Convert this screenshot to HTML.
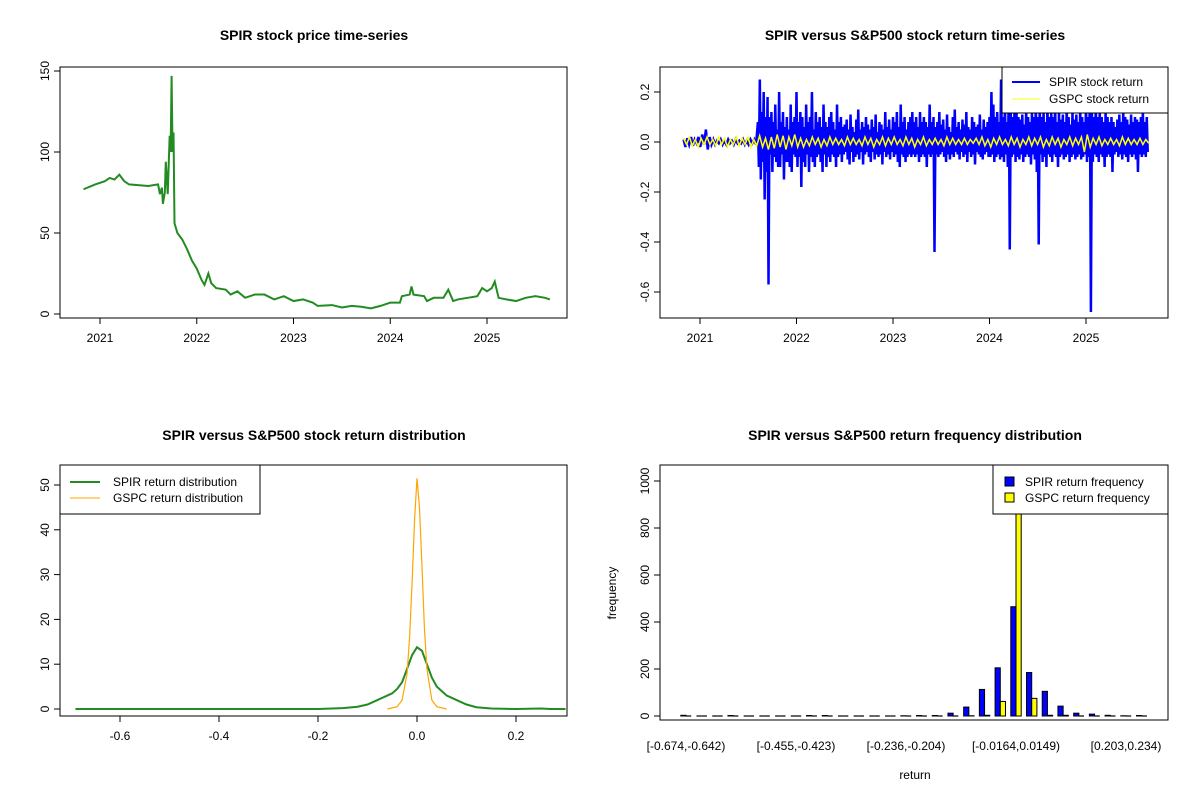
<!DOCTYPE html>
<html><head><meta charset="utf-8"><style>
html,body{margin:0;padding:0;background:#fff;}
svg{display:block;font-family:"Liberation Sans",Arial,sans-serif;}
</style></head><body>
<svg id="c" width="1200" height="800" viewBox="0 0 1200 800"></svg>
<script>
// ---- data ----
const priceDates=[2020.83,2020.95,2021.05,2021.1,2021.15,2021.2,2021.25,2021.3,2021.5,2021.6,2021.62,2021.64,2021.65,2021.67,2021.68,2021.7,2021.72,2021.73,2021.74,2021.75,2021.76,2021.77,2021.8,2021.85,2021.9,2021.95,2022.0,2022.05,2022.08,2022.12,2022.15,2022.2,2022.3,2022.35,2022.42,2022.5,2022.6,2022.7,2022.8,2022.9,2023.0,2023.1,2023.2,2023.25,2023.4,2023.5,2023.6,2023.7,2023.8,2023.9,2024.0,2024.1,2024.12,2024.2,2024.22,2024.24,2024.35,2024.38,2024.45,2024.55,2024.6,2024.65,2024.7,2024.8,2024.9,2024.95,2025.0,2025.05,2025.08,2025.12,2025.2,2025.3,2025.4,2025.5,2025.6,2025.65];
const priceValues=[77,80,82,84,83,86,82,80,79,80,74,78,68,75,94,74,110,100,147,100,112,56,50,46,40,33,28,21,18,25,19,16,15,12,14,10,12,12,9,11,8,9,7,5,5.5,4,5,4.5,3.5,5,7,7,11,12,17,12,11,8,10,10,15,8,9,10,11,16,14,16,20,10,9,8,10,11,10,9];
const spirSegStarts=[2020.83,2021.6,2022.0,2023.0,2024.0,2025.0];
const spirSegEnds=[2021.6,2022.0,2023.0,2024.0,2025.0,2025.65];
const spirSeg0=[0.01,-0.02,0.015,-0.01,0.02,-0.015,0.01,-0.005,0.02,-0.02,0.03,-0.01,0.05,-0.03,0.02,-0.01,0.01,-0.01,0.005,-0.005,0.01,-0.01,0.005,-0.01,0.01,-0.005,0.005,-0.01,0.01,-0.005,0.005,-0.005,0.01,-0.01,0.005,-0.01,0.01,-0.005,0.01,-0.01];
const spirSeg1=[0.08,-0.1,0.25,-0.15,0.12,-0.08,0.2,-0.23,0.1,-0.12,0.18,-0.57,0.1,-0.05,0.12,-0.12,0.08,-0.06,0.15,-0.08,0.05,-0.1,0.2,-0.1,0.08,-0.05,0.12,-0.15,0.06,-0.08,0.1,-0.08,0.05,-0.1,0.15,-0.12,0.08,-0.05,0.1,-0.06];
const spirSeg2=[0.2,-0.1,0.08,-0.06,0.12,-0.18,0.1,-0.08,0.06,-0.1,0.15,-0.05,0.08,-0.12,0.1,-0.06,0.2,-0.08,0.05,-0.1,0.12,-0.06,0.08,-0.05,0.1,-0.08,0.06,-0.12,0.15,-0.05,0.08,-0.1,0.06,-0.06,0.1,-0.08,0.12,-0.05,0.08,-0.06,0.05,-0.1,0.15,-0.06,0.08,-0.05,0.1,-0.08,0.06,-0.05,0.07,-0.04,0.09,-0.07,0.05,-0.09,0.11,-0.04,0.06,-0.08,0.04,-0.06,0.09,-0.05,0.13,-0.07,0.05,-0.04,0.08,-0.09,0.06,-0.05,0.1,-0.04,0.07,-0.06,0.05,-0.08,0.09,-0.04,0.06,-0.07,0.11,-0.05,0.04,-0.06,0.08,-0.05,0.07,-0.09,0.05,-0.04,0.12,-0.06,0.06,-0.05,0.09,-0.07,0.05,-0.04];
const spirSeg3=[0.1,-0.06,0.08,-0.05,0.12,-0.08,0.06,-0.1,0.15,-0.05,0.08,-0.06,0.1,-0.08,0.05,-0.06,0.08,-0.05,0.1,-0.06,0.12,-0.05,0.08,-0.06,0.1,-0.05,0.06,-0.08,0.12,-0.06,0.08,-0.05,0.1,-0.06,0.08,-0.1,0.06,-0.05,0.15,-0.06,0.08,-0.05,0.1,-0.44,0.06,-0.05,0.08,-0.06,0.12,-0.05,0.07,-0.04,0.09,-0.06,0.05,-0.08,0.11,-0.05,0.06,-0.07,0.04,-0.05,0.1,-0.06,0.13,-0.04,0.06,-0.05,0.08,-0.07,0.05,-0.04,0.09,-0.06,0.07,-0.05,0.12,-0.08,0.06,-0.04,0.05,-0.06,0.1,-0.05,0.08,-0.09,0.06,-0.04,0.07,-0.05,0.11,-0.06,0.05,-0.07,0.09,-0.05,0.06,-0.04,0.08,-0.06];
const spirSeg4=[0.1,-0.06,0.2,-0.05,0.15,-0.08,0.1,-0.06,0.12,-0.05,0.08,-0.07,0.25,-0.06,0.1,-0.08,0.15,-0.05,0.08,-0.1,0.22,-0.43,0.12,-0.06,0.1,-0.05,0.15,-0.08,0.12,-0.06,0.1,-0.07,0.09,-0.05,0.11,-0.08,0.07,-0.06,0.13,-0.05,0.1,-0.06,0.08,-0.09,0.12,-0.05,0.1,-0.07,0.15,-0.12,0.1,-0.41,0.15,-0.05,0.1,-0.08,0.12,-0.06,0.08,-0.1,0.15,-0.05,0.1,-0.06,0.12,-0.08,0.1,-0.05,0.15,-0.06,0.08,-0.1,0.12,-0.06,0.09,-0.05,0.11,-0.07,0.08,-0.06,0.14,-0.05,0.1,-0.08,0.07,-0.06,0.12,-0.05,0.09,-0.07,0.11,-0.06,0.08,-0.05,0.13,-0.07,0.1,-0.06,0.08,-0.05];
const spirSeg5=[0.15,-0.08,0.1,-0.06,0.2,-0.68,0.12,-0.08,0.1,-0.05,0.15,-0.06,0.1,-0.08,0.12,-0.05,0.1,-0.06,0.08,-0.1,0.12,-0.06,0.1,-0.05,0.08,-0.06,0.1,-0.12,0.08,-0.05,0.06,-0.04,0.09,-0.06,0.11,-0.05,0.08,-0.07,0.12,-0.05,0.1,-0.06,0.09,-0.08,0.07,-0.05,0.11,-0.06,0.08,-0.05,0.1,-0.07,0.09,-0.12,0.08,-0.05,0.1,-0.06,0.12,-0.05,0.08,-0.06,0.1,-0.04];
const gspcRet=[0.015,-0.01,0.02,-0.015,0.01,-0.02,0.015,-0.01,0.02,-0.01,0.01,-0.015,0.02,-0.01,0.015,-0.02,0.01,-0.01,0.02,-0.015,0.015,-0.01,0.02,-0.02,0.01,-0.015,0.025,-0.02,0.015,-0.03,0.02,-0.025,0.03,-0.02,0.025,-0.03,0.02,-0.015,0.03,-0.02,0.015,-0.02,0.01,-0.015,0.02,-0.01,0.015,-0.02,0.01,-0.015,0.02,-0.01,0.015,-0.01,0.01,-0.015,0.02,-0.01,0.015,-0.01,0.01,-0.015,0.02,-0.01,0.015,-0.02,0.01,-0.01,0.02,-0.015,0.015,-0.01,0.02,-0.01,0.01,-0.015,0.02,-0.01,0.015,-0.02,0.01,-0.01,0.02,-0.015,0.01,-0.01,0.015,-0.01,0.01,-0.015,0.02,-0.01,0.015,-0.01,0.01,-0.01,0.015,-0.01,0.01,-0.005,0.015,-0.01,0.02,-0.015,0.01,-0.02,0.015,-0.01,0.02,-0.01,0.01,-0.015,0.02,-0.01,0.015,-0.02,0.01,-0.01,0.02,-0.015,0.015,-0.01,0.02,-0.02,0.01,-0.015,0.02,-0.01,0.015,-0.02,0.01,-0.01,0.02,-0.015,0.015,-0.01,0.02,-0.04,0.03,-0.02,0.015,-0.01,0.02,-0.015,0.01,-0.01,0.015,-0.01,0.01,-0.015,0.02,-0.01,0.015,-0.01,0.01,-0.01,0.015,-0.01,0.01,-0.005];
const spirDensX=[-0.69,-0.2,-0.15,-0.12,-0.1,-0.08,-0.06,-0.05,-0.04,-0.03,-0.02,-0.01,0,0.01,0.02,0.03,0.04,0.05,0.06,0.08,0.1,0.12,0.15,0.2,0.25,0.27,0.3];
const spirDensY=[0,0,0.2,0.5,1,2,3,3.5,4.5,6,9,12,13.8,13,10,7,5,4,3,2,1,0.4,0.1,0,0.1,0,0];
const gspcDensX=[-0.06,-0.04,-0.03,-0.02,-0.015,-0.01,-0.005,0,0.005,0.01,0.015,0.02,0.03,0.04,0.06];
const gspcDensY=[0,0.5,2,8,16,28,42,51.5,45,32,18,9,2,0.5,0];
const binLabels=["[-0.674,-0.642)","[-0.455,-0.423)","[-0.236,-0.204)","[-0.0164,0.0149)","[0.203,0.234)"];
const spirFreq=[3,0,0,2,0,0,0,0,2,2,0,0,0,0,1,2,2,12,38,113,205,465,185,105,42,12,8,3,1,2];
const gspcFreq=[0,0,0,0,0,0,0,0,0,0,0,0,0,0,0,0,0,0,1,3,62,1050,75,3,3,0,0,0,0,0];

const S=document.getElementById('c');const NS='http://www.w3.org/2000/svg';
function mk(tag,a,parent){const e=document.createElementNS(NS,tag);for(const k in a)e.setAttribute(k,a[k]);(parent||S).appendChild(e);return e;}
function txt(x,y,s,opts){const e=mk('text',Object.assign({x:x,y:y,'font-size':12,'text-anchor':'middle',fill:'#000'},opts||{}));e.textContent=s;return e;}
function box(x0,y0,x1,y1,name){const r=mk('rect',{x:x0,y:y0,width:x1-x0,height:y1-y0,fill:'none',stroke:'#000','stroke-width':1});

}
function ytick(px,py,label,name){mk('line',{x1:px,x2:px-6,y1:py,y2:py,stroke:'#000'});const t=txt(px-11,py,label,{transform:'rotate(-90 '+(px-11)+' '+py+')'});

}
function xtick(px,py,label,name){mk('line',{x1:px,x2:px,y1:py,y2:py+6,stroke:'#000'});const t=txt(px,py+24,label);

}
function title(x,s,y,name){const t=txt(x,y,s,{'font-weight':'bold','font-size':14});

}

// ---- panel 1 ----
const p1x=t=>100+(t-2021)*96.75, p1y=v=>314-v*1.62;
title(314,'SPIR stock price time-series',40,'price-chart-title');
box(60,67,567,318,'price-plot-area');
[0,50,100,150].forEach(v=>ytick(60,p1y(v),String(v),'price-y-tick'));
mk('line',{x1:60,x2:60,y1:p1y(0),y2:p1y(150),stroke:'#000'});
[2021,2022,2023,2024,2025].forEach(v=>xtick(p1x(v),318,String(v),'price-x-tick'));
mk('line',{x1:p1x(2021),x2:p1x(2025),y1:318,y2:318,stroke:'#000'});
const pl=mk('polyline',{points:priceDates.map((d,i)=>p1x(d)+','+p1y(priceValues[i])).join(' '),fill:'none',stroke:'#228B22','stroke-width':2});



// ---- panel 2 ----
const p2x=t=>700+(t-2021)*96.5, p2y=r=>142-r*250;
title(915,'SPIR versus S&P500 stock return time-series',40,'return-chart-title');
box(660,67,1168,318,'return-plot-area');
[0.2,0,-0.2,-0.4,-0.6].forEach(v=>ytick(660,p2y(v),v.toFixed(1),'return-y-tick'));
mk('line',{x1:660,x2:660,y1:p2y(0.2),y2:p2y(-0.6),stroke:'#000'});
[2021,2022,2023,2024,2025].forEach(v=>xtick(p2x(v),318,String(v),'return-x-tick'));
mk('line',{x1:p2x(2021),x2:p2x(2025),y1:318,y2:318,stroke:'#000'});
const segs=[spirSeg0,spirSeg1,spirSeg2,spirSeg3,spirSeg4,spirSeg5];let pts=[];
segs.forEach((s,k)=>{const a=spirSegStarts[k],b=spirSegEnds[k];s.forEach((v,i)=>pts.push(p2x(a+(b-a)*i/s.length)+','+p2y(v)));});
const sl=mk('polyline',{points:pts.join(' '),fill:'none',stroke:'#0000FF','stroke-width':2.5});


const gl=mk('polyline',{points:gspcRet.map((v,i)=>p2x(2020.83+(2025.65-2020.83)*i/(gspcRet.length-1))+','+p2y(v)).join(' '),fill:'none',stroke:'#FFFF00','stroke-width':1.5});


const lg2=mk('g',{});


mk('rect',{x:1002,y:67,width:166,height:46,fill:'#fff',stroke:'#000'},lg2);
mk('line',{x1:1012,x2:1040,y1:82,y2:82,stroke:'#0000FF','stroke-width':2},lg2);
mk('line',{x1:1012,x2:1040,y1:99,y2:99,stroke:'#FFFF00','stroke-width':1},lg2);
lg2.appendChild(txt(1049,86,'SPIR stock return',{'text-anchor':'start'}));
lg2.appendChild(txt(1049,103,'GSPC stock return',{'text-anchor':'start'}));

// ---- panel 3 ----
const p3x=v=>417+v*495, p3y=d=>709-d*4.48;
title(314,'SPIR versus S&P500 stock return distribution',440,'density-chart-title');
box(60,465,567,716,'density-plot-area');
[0,10,20,30,40,50].forEach(v=>ytick(60,p3y(v),String(v),'density-y-tick'));
mk('line',{x1:60,x2:60,y1:p3y(0),y2:p3y(50),stroke:'#000'});
[-0.6,-0.4,-0.2,0,0.2].forEach(v=>xtick(p3x(v),716,v===0?'0.0':v.toFixed(1),'density-x-tick'));
mk('line',{x1:p3x(-0.6),x2:p3x(0.2),y1:716,y2:716,stroke:'#000'});
const d1=mk('polyline',{points:spirDensX.map((x,i)=>p3x(x)+','+p3y(spirDensY[i])).join(' '),fill:'none',stroke:'#228B22','stroke-width':2});


const d2=mk('polyline',{points:gspcDensX.map((x,i)=>p3x(x)+','+p3y(gspcDensY[i])).join(' '),fill:'none',stroke:'#FFA500','stroke-width':1.2});


const lg3=mk('g',{});


mk('rect',{x:60,y:465,width:200,height:49,fill:'#fff',stroke:'#000'},lg3);
mk('line',{x1:70,x2:100,y1:482,y2:482,stroke:'#228B22','stroke-width':2},lg3);
mk('line',{x1:70,x2:100,y1:498,y2:498,stroke:'#FFA500','stroke-width':1},lg3);
lg3.appendChild(txt(113,486,'SPIR return distribution',{'text-anchor':'start'}));
lg3.appendChild(txt(113,502,'GSPC return distribution',{'text-anchor':'start'}));

// ---- panel 4 ----
const p4c=i=>686+i*(110/7), p4y=f=>716-f*0.235, bw=5.2;
title(915,'SPIR versus S&P500 return frequency distribution',440,'histogram-chart-title');
[0,200,400,600,800,1000].forEach(v=>ytick(660,p4y(v),String(v),'histogram-y-tick'));
mk('line',{x1:660,x2:660,y1:p4y(0),y2:p4y(1000),stroke:'#000'});
function bar(x,f,fill){
  if(f<=0){return mk('line',{x1:x,x2:x+bw,y1:716,y2:716,stroke:'#000','stroke-width':1.2});}
  const y=Math.max(p4y(f),465);
  return mk('rect',{x:x,y:y,width:bw,height:716-y,fill:fill,stroke:'#000','stroke-width':1});
}
spirFreq.forEach((f,i)=>{const r=bar(p4c(i)-bw,f,'#0000FF');

});
gspcFreq.forEach((f,i)=>{const r=bar(p4c(i),f,'#FFFF00');

});
box(660,465,1168,720,'histogram-plot-area');
binLabels.forEach((s,k)=>{const t=txt(p4c(k*7),750,s);

});
const xl=txt(915,779,'return');


const yl=txt(616,593,'frequency',{transform:'rotate(-90 616 593)'});


const lg4=mk('g',{});


mk('rect',{x:993,y:465,width:175,height:49,fill:'#fff',stroke:'#000'},lg4);
mk('rect',{x:1005,y:477,width:9,height:9,fill:'#0000FF',stroke:'#000'},lg4);
mk('rect',{x:1005,y:493,width:9,height:9,fill:'#FFFF00',stroke:'#000'},lg4);
lg4.appendChild(txt(1025,486,'SPIR return frequency',{'text-anchor':'start'}));
lg4.appendChild(txt(1025,502,'GSPC return frequency',{'text-anchor':'start'}));
</script>
</body></html>
